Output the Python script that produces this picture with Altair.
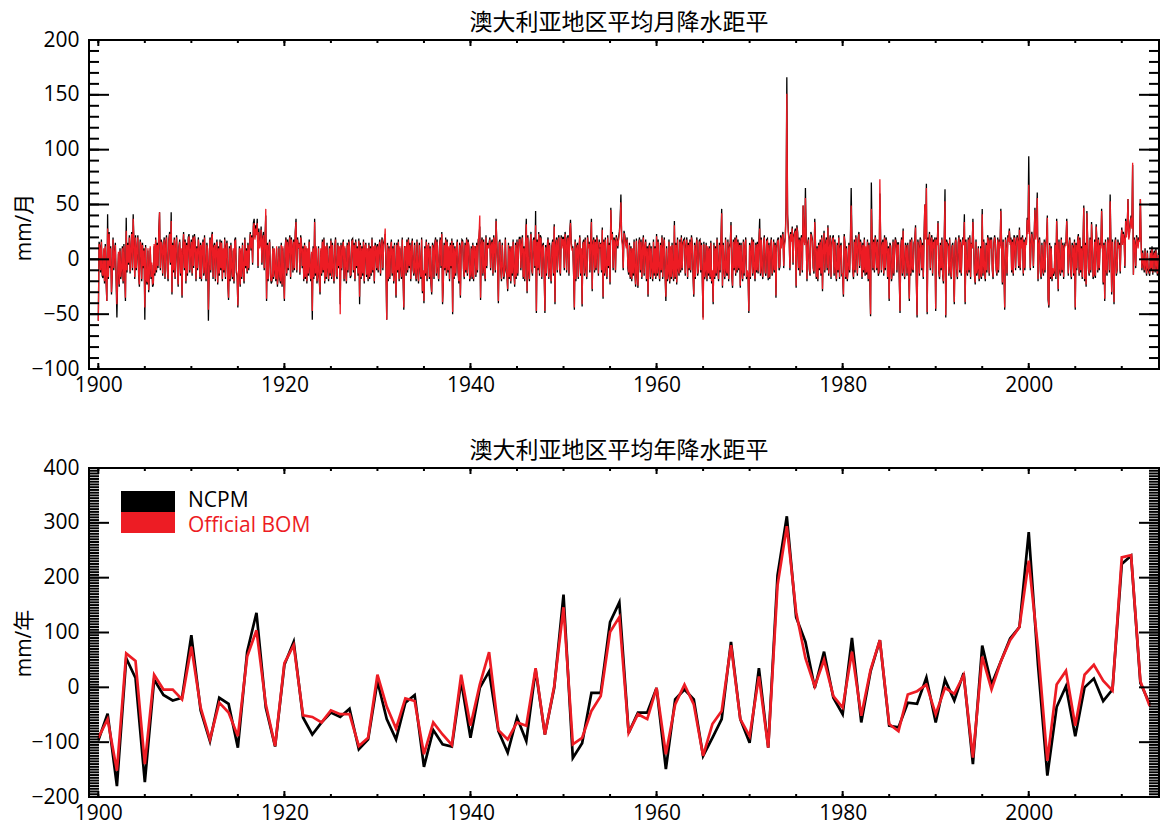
import altair as alt
import pandas as pd

# ---------------- text ----------------
TITLE_MONTHLY = "澳大利亚地区平均月降水距平"
TITLE_ANNUAL = "澳大利亚地区平均年降水距平"
Y_TITLE_MONTHLY = "mm/月"
Y_TITLE_ANNUAL = "mm/年"
SERIES = ["NCPM", "Official BOM"]
COLORS = ["#000000", "#ED1C24"]

# ---------------- annual anomalies (mm/yr), 1900-2013 ----------------
years = list(range(1900, 2014))
ncpm_annual = [
    -97, -48, -180, 53, 17, -173, 14, -14, -24, -19,
    95, -42, -98, -19, -30, -110, 65, 136, -37, -108,
    41, 83, -55, -86, -64, -46, -54, -39, -113, -95,
    11, -58, -95, -28, -14, -145, -78, -104, -108, 11,
    -92, -1, 29, -80, -119, -55, -98, 32, -86, -1,
    169, -129, -102, -10, -10, 119, 155, -83, -46, -46,
    -1, -149, -22, -4, -22, -125, -92, -58, 83, -58,
    -101, 35, -110, 204, 312, 128, 83, -1, 65, -19,
    -49, 90, -64, 29, 86, -70, -73, -28, -30, 18,
    -64, 14, -24, 26, -140, 76, 5, 47, 89, 110,
    283, 40, -161, -36, 2, -89, 0, 16, -25, -4,
    225, 240, 8, -30,
]
bom_annual = [
    -92, -58, -152, 62, 48, -140, 23, -4, -4, -22,
    74, -37, -95, -28, -46, -89, 56, 104, -31, -107,
    44, 77, -51, -54, -64, -42, -49, -49, -107, -92,
    23, -35, -75, -20, -25, -122, -64, -86, -105, 23,
    -70, 5, 64, -78, -95, -64, -70, 35, -86, 2,
    146, -104, -92, -43, -16, 101, 128, -83, -49, -58,
    -1, -122, -31, 5, -31, -125, -67, -43, 77, -58,
    -89, 20, -110, 186, 294, 137, 53, 2, 50, -16,
    -37, 65, -52, 32, 86, -67, -80, -13, -7, 5,
    -49, -1, -12, 22, -128, 56, -4, 47, 86, 110,
    231, 70, -134, 5, 30, -70, 23, 41, 12, -6,
    237, 241, 11, -34,
]

# ---------------- monthly anomalies (mm/month), one row per year 1900-2013 ----------------
ncpm_monthly = [
    [-56, 16, 12, -12, 18, -15, -17, 8, -22, 14, -20, -38],  # 1900
    [41, -18, 25, -8, 12, -32, -15, 20, -10, 8, 15, -20],
    [-53, -15, 5, -25, 10, -18, -10, 12, -22, 14, -12, -38],
    [38, -12, 15, -5, 22, -13, 8, 25, -10, 41, 15, -18],
    [22, -10, 8, 22, -15, -25, 18, 12, -20, 15, -8, 10],
    [-55, 13, -20, -23, 8, -30, -12, 10, -18, -5, -25, -23],
    [12, -15, 20, -12, 15, -8, 26, 43, -10, 18, 15, -15],
    [10, 20, -18, 15, 22, -10, -20, 18, 25, -5, 43, -32],
    [15, -12, 20, -18, 10, 22, -8, -25, 12, 18, -15, 8],
    [-35, 12, 25, -10, 18, -22, 15, -15, 20, 23, -12, 10],
    [18, -15, 22, -8, 23, 15, -20, 12, -10, 20, 8, -18],  # 1910
    [15, -20, 10, 18, -15, 22, -12, -20, 15, 8, -56, -10],
    [20, -12, 20, 25, -18, 12, 15, -20, 10, 18, -23, 12],
    [-15, 18, -10, 17, -20, 8, -12, 20, -18, 12, 17, -22],
    [-37, 12, -20, 15, -10, -18, 8, -22, 18, 20, -12, -15],
    [-44, -15, 12, -25, 8, -18, 15, -10, -22, 20, -8, 10],
    [-13, 15, -10, 12, 25, 8, 22, -5, 33, 37, 20, 31],
    [25, 37, -8, 28, 12, 15, 30, -5, 20, 25, -10, 18],
    [40, -38, 15, -20, 10, 18, -15, -22, -20, 12, -18, 8],
    [-12, -20, 10, -25, -15, 12, -18, -22, 15, -25, 10, -15],
    [-38, 12, 20, -15, 18, -10, 15, 22, -18, 20, 10, -12],  # 1920
    [18, -10, 25, 37, -12, 20, 10, 15, -14, 22, 15, -8],
    [12, -20, 15, -18, 10, -22, 8, -15, 18, -10, -20, 5],
    [-55, 12, -18, 37, -15, 10, -22, -15, 12, -20, -32, 8],
    [-15, 18, -12, 20, -22, 10, -18, 15, -10, -20, 12, -15],
    [19, -18, 15, -10, -22, 12, 20, -15, -18, 15, -8, 10],
    [-41, 15, -10, 12, 18, -20, 10, -8, -22, 15, -12, 18],
    [12, -17, -15, 18, 19, -12, 15, -20, 18, -8, 12, -15],
    [19, -41, 15, -18, 12, -15, 18, -22, 10, 15, -16, 8],
    [-20, 15, -18, 12, -15, 20, -12, 10, -22, 15, 12, -10],
    [14, -12, 10, 18, -15, 12, 20, -10, 15, 18, 23, -8],  # 1930
    [-55, 15, -20, 12, -18, 10, 18, -15, 12, -22, 15, -12],
    [-35, 15, -12, 18, -20, 10, -8, -18, 20, -15, -46, 12],
    [10, -15, 18, -12, 20, -8, 15, -20, 12, 19, -10, -15],
    [15, -12, -20, 18, -10, -22, 15, -8, -18, 20, -31, -12],
    [-40, 12, -15, 18, -20, 10, 15, -18, 12, -22, -32, 15],
    [12, -18, 15, 20, -15, 18, -10, -20, 12, 20, -8, 25],
    [-41, -22, 15, -10, 20, -15, 18, -12, 10, -20, 15, -8],
    [19, -50, 15, -18, 12, -15, 8, 18, -12, -22, 15, -35],
    [12, 18, 17, -10, -18, 15, -12, 20, -15, 18, 10, -20],
    [-15, 12, -18, 15, -20, 10, 12, -16, 15, -12, 18, 20],  # 1940
    [30, -37, 15, 20, -15, 18, -10, -20, 22, -8, 15, 12],
    [15, 20, -10, 15, 18, -15, 22, 10, -12, 37, 15, -8],
    [-40, 16, 18, -10, -20, 15, -8, -18, -12, 20, -10, -15],
    [-29, 15, -18, 12, -22, 10, -15, 18, -12, -25, 15, -18],
    [18, -15, 12, 20, 20, -10, 15, 22, -18, 12, -20, 15],
    [37, -31, 22, -12, -20, 15, 25, -10, -15, 18, 20, -8],
    [44, -49, 18, -10, 25, -15, 22, 20, -18, 13, 15, -12],
    [-49, 13, -15, 12, 20, -18, 15, -10, -22, 12, 18, -15],
    [32, -41, 15, 20, -12, 18, 22, -10, -15, 22, 12, 20],
    [20, -10, 25, 18, -12, 20, 22, -15, 25, 36, 15, 10],  # 1950
    [12, -15, -46, 18, -20, 12, 15, -18, 10, 22, -15, 8],
    [-43, 15, 18, -15, 20, -10, -18, 22, 12, 16, -12, 18],
    [37, -29, 15, 20, -12, 18, -10, 22, 12, -15, 18, 10],
    [15, -12, 29, -36, 18, -15, 20, -10, -18, 22, -8, 15],
    [-23, 47, 20, 25, -10, 20, 18, -12, 22, 18, 10, 20],
    [25, 35, 59, 20, 15, -10, 26, 22, 16, 12, 20, -8],
    [-14, 15, -18, 12, -20, 8, -15, 18, -12, -25, 19, -15],
    [-26, 15, 20, -12, 18, -18, 12, 22, -15, 10, 18, -20],
    [12, -34, 11, 15, -18, 12, -10, -20, 18, -15, 12, -18],
    [23, -15, 18, -10, -20, 15, -12, 22, -18, 12, 20, -15],  # 1960
    [-38, 12, -20, -15, 18, -22, 10, -18, 15, -12, -20, 35],
    [-18, 15, -23, 20, -10, -15, 18, -12, 22, -10, 15, 18],
    [19, -15, 12, 20, -18, 15, -10, 18, -12, 22, 15, -15],
    [-34, 15, -18, 12, 20, -15, -10, 17, 18, -12, 15, -20],
    [-53, 16, -18, -12, 15, -20, 10, -15, 12, -18, 17, -22],
    [-12, -41, 15, -18, 12, -15, 20, -10, -20, 15, -12, 18],
    [46, -26, 15, -10, -18, 20, -12, -15, 18, -20, 12, 15],
    [34, -15, -26, 18, -10, 20, -15, 22, -12, 18, -10, 15],
    [-26, 15, -10, -20, 18, -15, 10, 20, -18, -12, -15, -49],
    [15, -18, 12, 20, -15, 18, -10, -20, 15, -12, 16, -13],  # 1970
    [18, 37, -15, 20, -10, -18, 15, 22, -12, -15, 18, 19],
    [-19, 15, -18, 12, 20, -15, -10, 18, -12, 15, -35, 12],
    [18, 20, -10, -7, 22, 12, 20, 25, -8, 15, 20, 47],
    [166, 41, 25, 20, -10, 25, 18, 30, -5, 22, 25, 28],
    [-26, 31, 25, -10, 20, -15, 18, 22, -12, 49, 20, 15],
    [65, 18, -20, 15, 20, -10, -15, 25, 22, 18, -8, -13],
    [37, 15, -18, 12, -20, 15, -10, 18, -15, 22, -29, 12],
    [26, -12, 15, 20, -10, 31, -15, 12, 22, -18, 15, 20],
    [22, -15, 18, -10, -20, 15, -12, 22, -18, 12, 15, -15],
    [-15, -34, 23, 15, -18, 12, -20, -10, 15, -12, 18, 65],  # 1980
    [20, -10, -18, 18, -12, 22, 10, -15, 20, 25, -8, 18],
    [12, -18, 15, -12, 20, -15, 10, -14, 18, -20, 15, -20],
    [-52, 70, 20, -10, 18, -12, 22, 15, -10, 18, -15, -12],
    [60, 20, -12, 15, 18, -15, 22, -10, 20, 15, -18, 12],
    [-38, 15, 12, -20, -12, 18, -15, 10, 20, 16, -12, 15],
    [15, -18, -49, 12, 20, -15, 28, -10, -18, 15, 12, -15],
    [15, -10, -38, 18, -15, 20, -10, -12, 15, 18, 31, -20],
    [-53, 18, 12, -15, 20, 17, -10, 15, -18, 22, 50, 20],
    [69, -50, 20, 15, 25, -10, 18, 22, -15, 18, 12, 20],
    [-47, 20, 15, 35, -12, -18, 15, -10, 20, -15, -22, 18],  # 1990
    [64, -53, 18, 15, 14, -15, 20, -10, -18, 12, 15, -15],
    [-41, 15, 20, -10, -18, 15, 22, -12, 18, -15, 12, 20],
    [15, 41, -41, 18, -10, -15, 20, -12, 22, -18, 15, 10],
    [37, 12, -15, -23, 18, -15, -10, 12, -20, -15, 12, -18],
    [46, -15, 18, -10, -20, 15, -12, 22, 18, -15, 20, 12],
    [20, -10, -18, 15, 22, 16, -10, -15, 20, -12, 18, 12],
    [46, 15, -23, 18, -10, -46, 20, 12, -15, 22, 18, 28],
    [15, 20, -12, 18, -15, 22, 20, -10, 15, 22, 18, -8],
    [29, -10, 20, 12, 22, -15, 18, -10, 20, 15, 38, 25],
    [94, 30, -10, 15, 25, 18, -8, 22, 47, 20, 30, 61],  # 2000
    [-20, 15, 20, -12, -18, 15, -10, -15, 18, -12, 15, 20],
    [40, -37, -44, 15, -18, 12, -20, -10, -15, -12, 15, -18],
    [37, 15, -29, 18, -10, -15, 20, -12, 15, -18, 12, 15],
    [15, 37, 18, -15, 12, 20, -10, -18, 15, 12, -15, 18],
    [-46, 15, -10, 18, 23, -15, 20, -12, 12, -18, 15, 49],
    [-20, 15, -25, 44, 18, -10, -15, 20, -12, 34, 15, -18],
    [-15, 18, -17, 32, 15, -12, 20, -10, 15, 12, 46, 18],
    [-23, 15, -38, 18, -10, -15, 20, 15, -12, 59, 15, -32],
    [18, -12, -41, 15, 20, -15, -10, 18, 12, 15, -13, 18],
    [29, 15, 25, 20, -8, 37, 22, 30, 55, 20, 25, 35],  # 2010
    [40, 30, 86, -14, 20, 15, -8, 22, 18, 12, 20, 18],
    [55, 15, -10, 8, -5, -12, 10, -8, -15, 8, -10, -12],
    [-15, 8, -10, 12, -14, 5, 8, -12, 10, -8, -15, 6],
]
bom_monthly = [
    [-56, 14, 10, -10, 16, -13, -15, 10, -20, 12, -18, -38],  # 1900
    [28, -16, 23, -6, 10, -30, -13, 18, -8, 6, 13, -18],
    [-41, -13, 7, -23, 8, -16, -8, 10, -20, 12, -10, -35],
    [26, -10, 13, -3, 20, -11, 10, 23, -8, 37, 13, -16],
    [20, -8, 10, 20, -13, -23, 16, 14, -18, 13, -6, 8],
    [-44, 11, -18, -21, 10, -28, -10, 12, -16, -3, -23, -21],
    [14, -13, 18, -10, 13, -6, 24, 43, -8, 16, 13, -13],
    [12, 18, -16, 13, 20, -8, -18, 16, 23, -3, 35, -30],
    [13, -10, 18, -16, 12, 20, -6, -23, 10, 16, -13, 10],
    [-33, 10, 23, -8, 16, -20, 13, -13, 18, 21, -10, 8],
    [16, -13, 20, -6, 21, 13, -18, 10, -8, 18, 10, -16],  # 1910
    [13, -18, 12, 16, -13, 20, -10, -18, 13, 10, -46, -8],
    [18, -10, 18, 23, -16, 10, 13, -18, 12, 16, -21, 10],
    [-13, 16, -8, 15, -18, 10, -10, 18, -16, 10, 15, -20],
    [-35, 10, -18, 13, -8, -16, 10, -20, 16, 18, -10, -13],
    [-42, -13, 10, -23, 10, -16, 13, -8, -20, 18, -6, 8],
    [-11, 13, -8, 10, 23, 10, 20, -3, 30, 33, 18, 28],
    [22, 33, -6, 25, 10, 13, 27, -3, 18, 22, -8, 16],
    [46, -36, 13, -18, 12, 16, -13, -20, -18, 10, -16, 10],
    [-10, -18, 12, -23, -13, 10, -16, -20, 13, -23, 12, -13],
    [-36, 10, 18, -13, 16, -8, 13, 20, -16, 18, 12, -10],  # 1920
    [16, -8, 23, 34, -10, 18, 12, 13, -12, 20, 13, -6],
    [10, -18, 13, -16, 12, -20, 10, -13, 16, -8, -18, 7],
    [-47, 10, -16, 34, -13, 12, -20, -13, 10, -18, -30, 10],
    [-13, 16, -10, 18, -20, 12, -16, 13, -8, -18, 10, -13],
    [17, -16, 13, -8, -20, 10, 18, -13, -16, 13, -6, 12],
    [-50, 13, -8, 10, 16, -18, 12, -6, -20, 13, -10, 16],
    [10, -15, -13, 16, 17, -10, 13, -18, 16, -6, 10, -13],
    [17, -34, 13, -16, 10, -13, 16, -20, 12, 13, -14, 10],
    [-18, 13, -16, 10, -13, 18, -10, 12, -20, 13, 10, -8],
    [12, -10, 12, 16, -13, 10, 18, -8, 13, 16, 28, -6],  # 1930
    [-55, 13, -18, 10, -16, 12, 16, -13, 10, -20, 13, -10],
    [-33, 13, -10, 16, -18, 12, -6, -16, 18, -13, -44, 10],
    [12, -13, 16, -10, 18, -6, 13, -18, 10, 17, -8, -13],
    [13, -10, -18, 16, -8, -20, 13, -6, -16, 18, -29, -10],
    [-38, 10, -13, 16, -18, 12, 13, -16, 10, -20, -30, 13],
    [10, -16, 13, 18, -13, 16, -8, -18, 10, 18, -6, 23],
    [-39, -20, 13, -8, 18, -13, 16, -10, 12, -18, 13, -6],
    [17, -48, 13, -16, 10, -13, 10, 16, -10, -20, 13, -33],
    [10, 16, 15, -8, -16, 13, -10, 18, -13, 16, 12, -18],
    [-13, 10, -16, 13, -18, 12, 10, -14, 13, -10, 16, 22],  # 1940
    [40, -35, 13, 18, -13, 16, -8, -18, 20, -6, 13, 10],
    [13, 18, -8, 13, 16, -13, 20, 12, -10, 35, 13, -6],
    [-38, 14, 16, -8, -18, 13, -6, -16, -10, 18, -8, -13],
    [-27, 13, -16, 10, -20, 12, -13, 16, -10, -23, 13, -16],
    [16, -13, 10, 18, 18, -8, 13, 20, -16, 10, -18, 13],
    [32, -29, 20, -10, -18, 13, 23, -8, -13, 16, 18, -6],
    [31, -47, 16, -8, 23, -13, 20, 18, -16, 11, 13, -10],
    [-47, 11, -13, 10, 18, -16, 13, -8, -20, 10, 16, -13],
    [30, -39, 13, 18, -10, 16, 20, -8, -13, 20, 10, 18],
    [18, -8, 23, 16, -10, 18, 20, -13, 23, 33, 13, 8],  # 1950
    [10, -13, -44, 16, -18, 10, 13, -16, 12, 20, -13, 10],
    [-41, 13, 16, -13, 18, -8, -16, 20, 10, 14, -10, 16],
    [34, -27, 13, 18, -10, 16, -8, 20, 10, -13, 16, 12],
    [13, -10, 27, -34, 16, -13, 18, -8, -16, 20, -6, 13],
    [-21, 45, 18, 23, -8, 18, 16, -10, 20, 16, 12, 18],
    [23, 33, 52, 18, 13, -8, 24, 20, 14, 10, 18, -6],
    [-12, 13, -16, 10, -18, 10, -13, 16, -10, -23, 17, -13],
    [-24, 13, 18, -10, 16, -16, 10, 20, -13, 12, 16, -18],
    [10, -32, 9, 13, -16, 10, -8, -18, 16, -13, 10, -16],
    [21, -13, 16, -8, -18, 13, -10, 20, -16, 10, 18, -13],  # 1960
    [-34, 10, -18, -13, 16, -20, 12, -16, 13, -10, -18, 31],
    [-16, 13, -21, 18, -8, -13, 16, -10, 20, -8, 13, 16],
    [17, -13, 10, 18, -16, 13, -8, 16, -10, 20, 13, -13],
    [-32, 13, -16, 10, 18, -13, -8, 15, 16, -10, 13, -18],
    [-55, 14, -16, -10, 13, -18, 12, -13, 10, -16, 15, -20],
    [-10, -39, 13, -16, 10, -13, 18, -8, -18, 13, -10, 16],
    [42, -24, 13, -8, -16, 18, -10, -13, 16, -18, 10, 13],
    [31, -13, -24, 16, -8, 18, -13, 20, -10, 16, -8, 13],
    [-24, 13, -8, -18, 16, -13, 12, 18, -16, -10, -13, -47],
    [13, -16, 10, 18, -13, 16, -8, -18, 13, -10, 14, -11],  # 1970
    [16, 28, -13, 18, -8, -16, 13, 20, -10, -13, 16, 17],
    [-17, 13, -16, 10, 18, -13, -8, 16, -10, 13, -33, 10],
    [16, 18, -8, -5, 20, 10, 18, 23, -6, 13, 18, 43],
    [151, 38, 23, 18, -8, 23, 16, 28, -3, 20, 23, 26],
    [-24, 29, 23, -8, 18, -13, 16, 20, -10, 49, 18, 13],
    [56, 16, -18, 13, 18, -8, -13, 23, 20, 16, -6, -11],
    [34, 13, -16, 10, -18, 13, -8, 16, -13, 20, -27, 10],
    [24, -10, 13, 18, -8, 29, -13, 10, 20, -16, 13, 18],
    [20, -13, 16, -8, -18, 13, -10, 20, -16, 10, 13, -13],
    [-13, -32, 21, 13, -16, 10, -18, -8, 13, -10, 16, 49],  # 1980
    [18, -8, -16, 16, -10, 20, 12, -13, 18, 23, -6, 16],
    [10, -16, 13, -10, 18, -13, 12, -12, 16, -18, 13, -18],
    [-50, 46, 18, -8, 16, -10, 20, 13, -8, 16, -13, -10],
    [73, 18, -10, 13, 16, -13, 20, -8, 18, 13, -16, 10],
    [-36, 13, 10, -18, -10, 16, -13, 12, 18, 14, -10, 13],
    [13, -16, -47, 10, 18, -13, 26, -8, -16, 13, 10, -13],
    [13, -8, -36, 16, -13, 18, -8, -10, 13, 16, 29, -18],
    [-51, 16, 10, -13, 18, 15, -8, 13, -16, 20, 50, 18],
    [65, -48, 18, 13, 23, -8, 16, 20, -13, 16, 10, 18],
    [-45, 18, 13, 33, -10, -16, 13, -8, 18, -13, -20, 16],  # 1990
    [53, -51, 16, 13, 12, -13, 18, -8, -16, 10, 13, -13],
    [-39, 13, 18, -8, -16, 13, 20, -10, 16, -13, 10, 18],
    [13, 34, -39, 16, -8, -13, 18, -10, 20, -16, 13, 12],
    [34, 10, -13, -21, 16, -13, -8, 10, -18, -13, 10, -16],
    [41, -13, 16, -8, -18, 13, -10, 20, 16, -13, 18, 10],
    [18, -8, -16, 13, 20, 14, -8, -13, 18, -10, 16, 10],
    [44, 13, -21, 16, -8, -44, 18, 10, -13, 20, 16, 26],
    [13, 18, -10, 16, -13, 20, 18, -8, 13, 20, 16, -6],
    [27, -8, 18, 10, 20, -13, 16, -8, 18, 13, 36, 23],
    [68, 28, -8, 13, 23, 16, -6, 20, 45, 18, 28, 56],  # 2000
    [-18, 13, 18, -10, -16, 13, -8, -13, 16, -10, 13, 18],
    [38, -35, -42, 13, -16, 10, -18, -8, -13, -10, 13, -16],
    [35, 13, -27, 16, -8, -13, 18, -10, 13, -16, 10, 13],
    [13, 35, 16, -13, 10, 18, -8, -16, 13, 10, -13, 16],
    [-44, 13, -8, 16, 21, -13, 18, -10, 10, -16, 13, 47],
    [-18, 13, -23, 42, 16, -8, -13, 18, -10, 32, 13, -16],
    [-13, 16, -15, 30, 13, -10, 18, -8, 13, 10, 44, 16],
    [-21, 13, -36, 16, -8, -13, 18, 13, -10, 53, 13, -30],
    [16, -10, -39, 13, 18, -13, -8, 16, 10, 13, -11, 16],
    [27, 13, 23, 18, -6, 35, 20, 28, 55, 18, 23, 33],  # 2010
    [38, 28, 88, -14, 18, 13, -6, 20, 16, 10, 18, 16],
    [55, 13, -8, 6, -3, -10, 8, -6, -13, 6, -8, -10],
    [-13, 6, -8, 10, -12, 3, 6, -10, 8, -6, -13, 4],
]

# ---------------- axis tick values ----------------
x_label_years = [1900, 1920, 1940, 1960, 1980, 2000]
x_minor_years = list(range(1900, 2015, 5))
monthly_y_labels = [-100, -50, 0, 50, 100, 150, 200]
monthly_y_minor = list(range(-100, 201, 10))
annual_y_labels = [-200, -100, 0, 100, 200, 300, 400]
annual_y_minor = list(range(-200, 401, 5))

for rows in (ncpm_monthly, bom_monthly):
    for i, r in enumerate(rows):
        assert len(r) == 12, (years[i], len(r))
assert len(ncpm_monthly) == len(years) and len(bom_monthly) == len(years)
assert len(ncpm_annual) == len(years) and len(bom_annual) == len(years)

# ---------------- tables ----------------
def monthly_frame(rows):
    vals = [v for r in rows for v in r]
    return pd.DataFrame({"t": [years[0] + i / 12 for i in range(len(vals))], "value": vals})

ncpm_m_df = monthly_frame(ncpm_monthly)
bom_m_df = monthly_frame(bom_monthly)
ncpm_a_df = pd.DataFrame({"year": years, "value": ncpm_annual})
bom_a_df = pd.DataFrame({"year": years, "value": bom_annual})
legend_df = pd.DataFrame({"series": SERIES, "color": COLORS})

# ---------------- layout / style ----------------
W, H = 1070, 329
X_DOMAIN = [1899, 2014]
FONT = "Open Sans"
CJK = "Noto Sans CJK SC"
MAJOR_Y, MINOR_Y = 20, 10
MAJOR_X, MINOR_X = 6, 3


def xenc(field):
    return alt.X(f"{field}:Q", scale=alt.Scale(domain=X_DOMAIN, nice=False, zero=False),
                 axis=alt.Axis(values=x_label_years, format="d", title=None, labelPadding=5))


def make_yenc(domain, labels, title, title_y):
    def yenc(field):
        return alt.Y(f"{field}:Q", scale=alt.Scale(domain=domain, nice=False, zero=False),
                     axis=alt.Axis(values=labels, format="d", title=title, titleY=title_y,
                                   titleX=-55, labelPadding=10))
    return yenc


def tick_layers(yenc, y_major, y_minor):
    layers = []
    ymaj = pd.DataFrame({"v": y_major})
    ymin = pd.DataFrame({"v": y_minor})
    xmaj = pd.DataFrame({"v": x_label_years})
    xmin = pd.DataFrame({"v": x_minor_years})
    for df, ln in ((ymaj, MAJOR_Y), (ymin, MINOR_Y)):
        layers.append(alt.Chart(df).mark_rule(color="black", strokeWidth=2).encode(
            y=yenc("v"), x=alt.value(0), x2=alt.value(ln)))
        layers.append(alt.Chart(df).mark_rule(color="black", strokeWidth=2).encode(
            y=yenc("v"), x=alt.value(W), x2=alt.value(W - ln)))
    for df, ln in ((xmaj, MAJOR_X), (xmin, MINOR_X)):
        layers.append(alt.Chart(df).mark_rule(color="black", strokeWidth=2).encode(
            x=xenc("v"), y=alt.value(H), y2=alt.value(H - ln)))
        layers.append(alt.Chart(df).mark_rule(color="black", strokeWidth=2).encode(
            x=xenc("v"), y=alt.value(0), y2=alt.value(ln)))
    return layers


# ---------------- top: monthly ----------------
yenc_m = make_yenc([-100, 200], monthly_y_labels, Y_TITLE_MONTHLY, 187)
top_lines = [
    alt.Chart(ncpm_m_df).mark_line(color=COLORS[0], strokeWidth=1.3, clip=True).encode(
        x=xenc("t"), y=yenc_m("value")),
    alt.Chart(bom_m_df).mark_line(color=COLORS[1], strokeWidth=1.3, clip=True).encode(
        x=xenc("t"), y=yenc_m("value")),
]
top = alt.layer(*top_lines, *tick_layers(yenc_m, monthly_y_labels, monthly_y_minor)).properties(
    width=W, height=H, title=alt.TitleParams(TITLE_MONTHLY, dx=-5, frame="group"))

# ---------------- bottom: annual ----------------
yenc_a = make_yenc([-200, 400], annual_y_labels, Y_TITLE_ANNUAL, 175)
bottom_lines = [
    alt.Chart(ncpm_a_df).mark_line(color=COLORS[0], strokeWidth=2.7, clip=True).encode(
        x=xenc("year"), y=yenc_a("value")),
    alt.Chart(bom_a_df).mark_line(color=COLORS[1], strokeWidth=2.7, clip=True).encode(
        x=xenc("year"), y=yenc_a("value")),
]
legend_layers = []
for i, name in enumerate(SERIES):
    sub = alt.Chart(legend_df).transform_filter(alt.datum.series == name)
    legend_layers.append(sub.mark_rect(color=COLORS[i]).encode(
        x=alt.value(32), x2=alt.value(86), y=alt.value(23 + 21 * i), y2=alt.value(44 + 21 * i)))
    legend_layers.append(sub.mark_text(align="left", baseline="middle", font=FONT, fontSize=21).encode(
        x=alt.value(99), y=alt.value(33 + 25 * i), text="series:N",
        color=alt.Color("color:N", scale=None)))

bottom = alt.layer(*bottom_lines, *tick_layers(yenc_a, annual_y_labels, annual_y_minor),
                   *legend_layers).properties(
    width=W, height=H, title=alt.TitleParams(TITLE_ANNUAL, dx=-5, frame="group"))

chart = alt.vconcat(top, bottom, spacing=43).properties(
    padding={"left": 4, "top": 3, "right": 0, "bottom": 0}
).configure_view(
    stroke="black", strokeWidth=2
).configure_axis(
    domain=False, ticks=False, grid=False,
    labelFont=FONT, labelFontSize=21, labelColor="black",
    titleFont=f"{FONT}, {CJK}", titleFontSize=21, titleFontWeight="normal", titleColor="black",
).configure_title(
    font=CJK, fontSize=23, fontWeight="normal", color="black", offset=-6, anchor="middle"
)

chart.save("out.html", embed_options={"renderer": "svg", "actions": False})
